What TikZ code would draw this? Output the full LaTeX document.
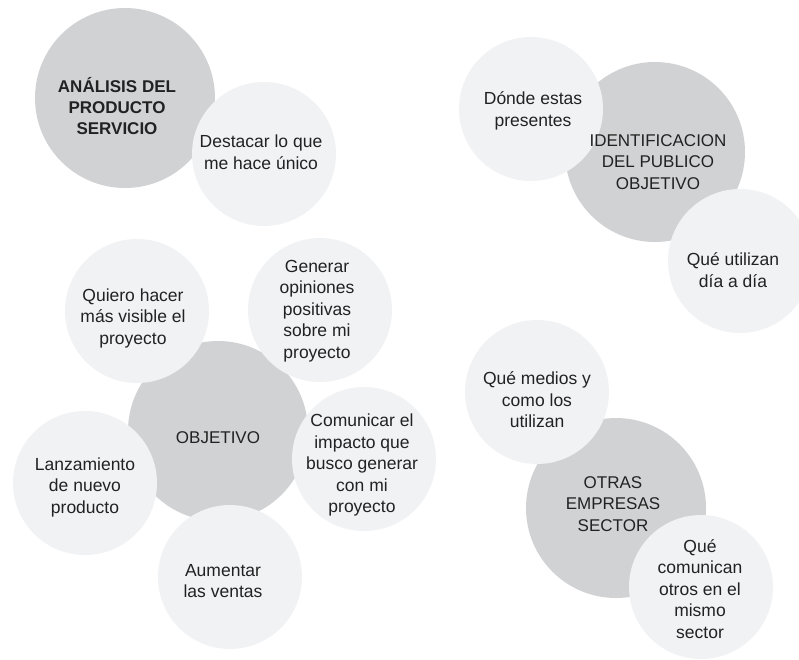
\documentclass[tikz,border=0pt]{standalone}
\usepackage{fontspec}
\setmainfont{Liberation Sans}
\begin{document}
\begin{tikzpicture}[x=1pt,y=-1pt,
  hub/.style={circle,fill=hubgray,draw=none,minimum size=180pt,inner sep=0pt},
  leaf/.style={circle,fill=leafgray,draw=none,minimum size=144pt,inner sep=0pt},
  txt/.style={align=center,text=ink,font=\fontsize{17.5}{21.5}\selectfont,inner sep=0pt},
  hubtxt/.style={txt,font=\fontsize{17}{21.5}\selectfont},
  boldtxt/.style={txt,font=\fontsize{17}{21}\selectfont\bfseries}]
\definecolor{hubgray}{HTML}{D1D2D4}
\definecolor{leafgray}{HTML}{F1F2F4}
\definecolor{ink}{HTML}{222222}
\useasboundingbox (0,0) rectangle (799,659);
\clip (0,0) rectangle (799,659);

% product / service analysis
\node[hub]  (analisis) at (125,98) {};
\node[leaf] (destacar) at (264,154) {};
\node[boldtxt] (t-analisis) at (117,106) {ANÁLISIS DEL\\PRODUCTO\\SERVICIO};
\node[txt] (t-destacar) at (261,152) {Destacar lo que\\me hace único};

% target audience
\node[hub]  (publico) at (655,152) {};
\node[leaf] (donde) at (531,109) {};
\node[leaf] (utilizan) at (740,261) {};
\node[txt] (t-donde) at (533,111) {Dónde estas\\presentes};
\node[hubtxt] (t-publico) at (658,162) {IDENTIFICACION\\DEL PUBLICO\\OBJETIVO};
\node[txt] (t-utilizan) at (733,270) {Qué utilizan\\día a día};

% objectives
\node[hub]  (objetivo) at (218,431) {};
\node[leaf] (quiero) at (137,311) {};
\node[leaf] (generar) at (320,310) {};
\node[leaf] (comunicar) at (364,459) {};
\node[leaf] (lanzamiento) at (85,483) {};
\node[leaf] (aumentar) at (230,577) {};
\node[hubtxt] (t-objetivo) at (218,438) {OBJETIVO};
\node[txt] (t-quiero) at (133,318) {Quiero hacer\\más visible el\\proyecto};
\node[txt] (t-generar) at (317,311) {Generar\\opiniones\\positivas\\sobre mi\\proyecto};
\node[txt] (t-comunicar) at (362,465) {Comunicar el\\impacto que\\busco generar\\con mi\\proyecto};
\node[txt] (t-lanzamiento) at (85,487) {Lanzamiento\\de nuevo\\producto};
\node[txt] (t-aumentar) at (223,581) {Aumentar\\las ventas};

% other companies in the sector
\node[hub]  (otras) at (616,508) {};
\node[leaf] (medios) at (537,392) {};
\node[leaf] (comunican) at (701,587) {};
\node[txt] (t-medios) at (537,400) {Qué medios y\\como los\\utilizan};
\node[hubtxt] (t-otras) at (613,504) {OTRAS\\EMPRESAS\\SECTOR};
\node[txt] (t-comunican) at (700,589) {Qué\\comunican\\otros en el\\mismo\\sector};
\end{tikzpicture}
\end{document}
